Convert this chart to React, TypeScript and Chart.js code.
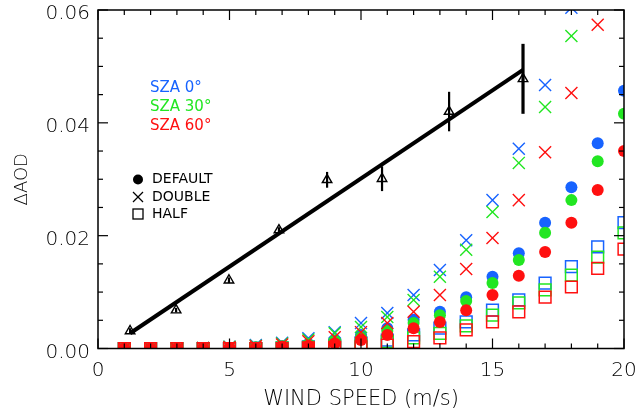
import React, { useEffect, useRef } from 'react';
import { Chart, registerables } from 'chart.js';

Chart.register(...registerables);

// ---------- data ----------
const windSpeed = [1, 2, 3, 4, 5, 6, 7, 8, 9, 10, 11, 12, 13, 14, 15, 16, 17, 18, 19, 20];

// DEFAULT (filled circles)
const defaultSza0 = [0, 0, 0, 0, 0.0001, 0.0002, 0.0004, 0.0008, 0.0014, 0.0024, 0.0036, 0.0051, 0.0065, 0.0091, 0.0127, 0.0169, 0.0223, 0.0286, 0.0364, 0.0457];
const defaultSza30 = [0, 0, 0, 0, 0.0001, 0.0002, 0.0004, 0.0007, 0.0013, 0.002, 0.0031, 0.0045, 0.0059, 0.0084, 0.0116, 0.0157, 0.0205, 0.0263, 0.0332, 0.0416];
const defaultSza60 = [0, 0, 0, 0, 0.0001, 0.0001, 0.0003, 0.0005, 0.0009, 0.0015, 0.0024, 0.0036, 0.0047, 0.0068, 0.0095, 0.0129, 0.0171, 0.0223, 0.0281, 0.035];

// DOUBLE (crosses)
const doubleSza0 = [0, 0, 0, 0.0001, 0.0003, 0.0006, 0.001, 0.0018, 0.0029, 0.0045, 0.0063, 0.0095, 0.0139, 0.0192, 0.0263, 0.0354, 0.0467, 0.0604, null, null];
const doubleSza30 = [0, 0, 0, 0.0001, 0.0003, 0.0005, 0.0009, 0.0016, 0.0027, 0.0038, 0.0056, 0.0086, 0.0127, 0.0175, 0.0242, 0.0329, 0.0428, 0.0554, null, null];
const doubleSza60 = [0, 0, 0, 0.0001, 0.0002, 0.0004, 0.0007, 0.0013, 0.002, 0.0029, 0.0045, 0.0065, 0.0095, 0.0141, 0.0196, 0.0263, 0.0348, 0.0453, 0.0574, null];

// HALF (open squares)
const halfSza0 = [0, 0, 0, 0, 0, 0, 0.0001, 0.0003, 0.0006, 0.001, 0.0015, 0.0024, 0.0036, 0.0047, 0.0068, 0.0086, 0.0116, 0.0145, 0.018, 0.0223];
const halfSza30 = [0, 0, 0, 0, 0, 0, 0.0001, 0.0002, 0.0004, 0.0006, 0.0012, 0.0019, 0.0027, 0.004, 0.0059, 0.0081, 0.0104, 0.013, 0.0162, 0.0205];
const halfSza60 = [0, 0, 0, 0, 0, 0, 0, 0.0001, 0.0002, 0.0003, 0.0006, 0.0012, 0.0019, 0.0033, 0.0047, 0.0065, 0.0091, 0.0109, 0.0142, 0.0176];

// Observations (triangles with error bars)
const obsX = [1.22, 2.97, 4.98, 6.88, 8.71, 10.8, 13.35, 16.16];
const obsY = [0.0031, 0.0068, 0.0121, 0.021, 0.0299, 0.0301, 0.042, 0.0478];
const obsErr = [0.0005, 0.0004, 0.0005, 0.0005, 0.0014, 0.0022, 0.0035, 0.0062];

// Fitted line
const fitX = [1.22, 16.16];
const fitY = [0.0027, 0.0494];

// Axis ticks / labels
const xMajorTicks = [0, 5, 10, 15, 20];
const xMinorStep = 1;
const yMajorTicks = [0, 0.02, 0.04, 0.06];
const yMinorStep = 0.005;
const xTitle = 'WIND SPEED (m/s)';
const yTitle = 'ΔAOD';
const szaLabels = ['SZA 0°', 'SZA 30°', 'SZA 60°'];
const typeLabels = ['DEFAULT', 'DOUBLE', 'HALF'];

const BLUE = '#1763ff';
const GREEN = '#22e622';
const RED = '#ff1010';
const szaColors = [BLUE, GREEN, RED];

const FONT = '"DejaVu Sans", sans-serif';
const W = 200;

const toPts = (arr: (number | null)[]) => windSpeed.map((x, i) => ({ x, y: arr[i] }));

const framePlugin = {
  id: 'frame',
  afterDatasetsDraw(chart: any) {
    const { ctx, chartArea: a, scales } = chart;
    const x = scales.x;
    const y = scales.y;
    ctx.save();
    ctx.strokeStyle = '#000';
    ctx.lineWidth = 1.5;
    ctx.strokeRect(a.left, a.top, a.right - a.left, a.bottom - a.top);
    ctx.lineWidth = 1.2;
    const line = (x1: number, y1: number, x2: number, y2: number) => {
      ctx.beginPath();
      ctx.moveTo(x1, y1);
      ctx.lineTo(x2, y2);
      ctx.stroke();
    };
    for (let v = x.min; v <= x.max + 1e-9; v += xMinorStep) {
      const px = x.getPixelForValue(v);
      const major = xMajorTicks.some((t) => Math.abs(t - v) < 1e-9);
      const len = major ? 10 : 5;
      line(px, a.bottom, px, a.bottom - len);
      line(px, a.top, px, a.top + len);
    }
    const n = Math.round((y.max - y.min) / yMinorStep);
    for (let i = 0; i <= n; i++) {
      const v = y.min + i * yMinorStep;
      const py = y.getPixelForValue(v);
      const major = yMajorTicks.some((t) => Math.abs(t - v) < 1e-9);
      const len = major ? 10 : 5;
      line(a.left, py, a.left + len, py);
      line(a.right, py, a.right - len, py);
    }

    // SZA colour legend
    ctx.font = `15px ${FONT}`;
    ctx.textBaseline = 'middle';
    ctx.textAlign = 'left';
    szaLabels.forEach((t, i) => {
      ctx.fillStyle = szaColors[i];
      ctx.fillText(t, 150, 88 + i * 19);
    });

    // symbol legend
    ctx.fillStyle = '#000';
    ctx.strokeStyle = '#000';
    ctx.font = `14px ${FONT}`;
    const ys = [179.5, 197, 214];
    const sx = 138;
    typeLabels.forEach((t, i) => {
      ctx.fillText(t, 152, ys[i]);
    });
    ctx.beginPath();
    ctx.arc(sx, ys[0], 5, 0, Math.PI * 2);
    ctx.fill();
    ctx.lineWidth = 1.3;
    line(sx - 5, ys[1] - 5, sx + 5, ys[1] + 5);
    line(sx - 5, ys[1] + 5, sx + 5, ys[1] - 5);
    ctx.strokeRect(sx - 5, ys[2] - 5, 10, 10);
    ctx.restore();
  },
};

export default function App() {
  const ref = useRef<HTMLCanvasElement | null>(null);

  useEffect(() => {
    if (!ref.current) return;

    const errData: any[] = [];
    obsX.forEach((x, i) => {
      errData.push({ x, y: obsY[i] - obsErr[i] });
      errData.push({ x, y: obsY[i] + obsErr[i] });
      errData.push({ x, y: null });
    });
    const errWidths = obsErr.map((e) => (e > 0.005 ? 3.2 : 2.2));

    const circle = (data: any, color: string, order: number) => ({
      type: 'scatter',
      data: toPts(data),
      pointStyle: 'circle',
      pointRadius: 6,
      backgroundColor: color,
      borderColor: color,
      borderWidth: 0,
      clip: 0,
      order,
    });
    const cross = (data: any, color: string, order: number) => ({
      type: 'scatter',
      data: toPts(data),
      pointStyle: 'crossRot',
      pointRadius: 8.5,
      backgroundColor: color,
      borderColor: color,
      borderWidth: 1.4,
      clip: 0,
      order,
    });
    const square = (data: any, color: string, order: number) => ({
      type: 'scatter',
      data: toPts(data),
      pointStyle: 'rect',
      pointRadius: 8.3,
      backgroundColor: 'rgba(0,0,0,0)',
      borderColor: color,
      borderWidth: 1.5,
      clip: 0,
      order,
    });

    const chart = new Chart(ref.current, {
      type: 'scatter',
      data: {
        datasets: [
          {
            type: 'line',
            data: fitX.map((x, i) => ({ x, y: fitY[i] })),
            borderColor: '#000',
            borderWidth: 4,
            pointRadius: 0,
            fill: false,
            clip: false,
            order: 0,
          } as any,
          {
            type: 'line',
            data: errData,
            borderColor: '#000',
            borderWidth: 2.6,
            pointRadius: 0,
            spanGaps: false,
            fill: false,
            clip: false,
            order: 1,
            segment: {
              borderWidth: (c: any) => errWidths[Math.floor(c.p0DataIndex / 3)] || 2.2,
            },
          } as any,
          {
            type: 'scatter',
            data: obsX.map((x, i) => ({ x, y: obsY[i] })),
            pointStyle: 'triangle',
            pointRadius: 5.5,
            backgroundColor: 'rgba(0,0,0,0)',
            borderColor: '#000',
            borderWidth: 1.4,
            clip: false,
            order: 2,
          } as any,
          circle(defaultSza60, RED, 3),
          cross(doubleSza60, RED, 4),
          square(halfSza60, RED, 5),
          circle(defaultSza30, GREEN, 6),
          cross(doubleSza30, GREEN, 7),
          square(halfSza30, GREEN, 8),
          circle(defaultSza0, BLUE, 9),
          cross(doubleSza0, BLUE, 10),
          square(halfSza0, BLUE, 11),
        ] as any,
      },
      options: {
        responsive: false,
        animation: false,
        events: [],
        layout: { padding: { top: 10, right: 12, left: 0, bottom: 0 } },
        plugins: {
          legend: { display: false },
          tooltip: { enabled: false },
        },
        scales: {
          x: {
            type: 'linear',
            min: 0,
            max: 20,
            afterFit: (s: any) => {
              s.height = 64.5;
              s.paddingLeft = 0;
              s.paddingRight = 0;
            },
            grid: { display: false, drawTicks: false, tickLength: 0 },
            border: { display: false },
            ticks: {
              stepSize: 5,
              padding: 10,
              maxRotation: 0,
              color: '#000',
              font: { family: FONT, size: 20, weight: W },
            },
            title: {
              display: true,
              text: xTitle,
              color: '#000',
              font: { family: FONT, size: 21, weight: W },
              padding: { top: 0, bottom: 1 },
            },
          },
          y: {
            type: 'linear',
            min: 0,
            max: 0.06,
            afterFit: (s: any) => {
              s.width = 98;
              s.paddingTop = 0;
              s.paddingBottom = 0;
            },
            grid: { display: false, drawTicks: false, tickLength: 0 },
            border: { display: false },
            ticks: {
              stepSize: 0.02,
              padding: 8,
              labelOffset: 4,
              color: '#000',
              font: { family: FONT, size: 20, weight: W },
              callback: (v: any) => Number(v).toFixed(2),
            },
            title: {
              display: true,
              text: yTitle,
              color: '#000',
              font: { family: FONT, size: 18, weight: W },
              padding: { top: 12, bottom: 0 },
            },
          },
        },
      } as any,
      plugins: [framePlugin],
    });

    return () => chart.destroy();
  }, []);

  return (
    <div style={{ position: 'absolute', left: 0, top: 0, width: 636, height: 413, background: '#fff' }}>
      <canvas ref={ref} width={636} height={413} style={{ display: 'block' }} />
    </div>
  );
}
